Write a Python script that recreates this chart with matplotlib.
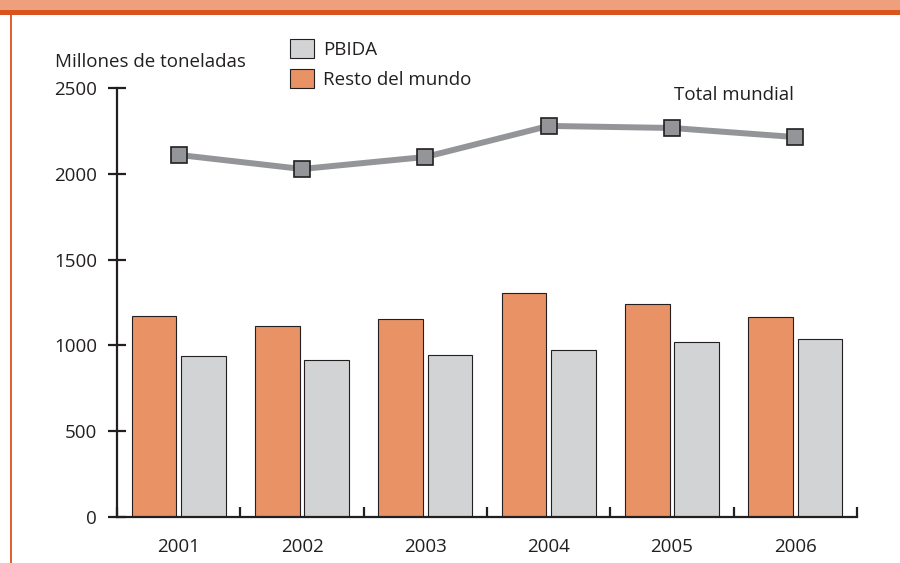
import matplotlib
matplotlib.use("Agg")
import matplotlib.pyplot as plt
import numpy as np
from matplotlib.patches import Rectangle, Patch

plt.rcParams["font.family"] = ["Open Sans", "DejaVu Sans"]

INK = "#231f20"
ORANGE = "#e89266"
GRAY = "#d1d3d4"
LINE = "#939598"

years = ["2001", "2002", "2003", "2004", "2005", "2006"]
resto = [1171, 1113, 1154, 1305, 1241, 1165]
pbida = [938, 915, 944, 973, 1020, 1037]
total = [2110, 2028, 2098, 2279, 2267, 2214]

fig = plt.figure(figsize=(9, 5.63), dpi=100)
fig.patch.set_facecolor("white")

# page frame: orange band on top, thin line on the left
fig.patches.append(Rectangle((0, 1 - 10 / 563), 1, 10 / 563, transform=fig.transFigure,
                             facecolor="#eda07b", edgecolor="none"))
fig.patches.append(Rectangle((0, 1 - 15 / 563), 1, 5 / 563, transform=fig.transFigure,
                             facecolor="#d9531e", edgecolor="none"))
fig.patches.append(Rectangle((10 / 900, 0), 2 / 900, 1 - 15 / 563, transform=fig.transFigure,
                             facecolor="#e0622d", edgecolor="none"))

ax = fig.add_axes([117 / 900, 1 - 517 / 563, 740 / 900, 429 / 563])

x = np.arange(len(years))
w = 0.36
ax.bar(x - 0.2, resto, width=w, color=ORANGE, edgecolor=INK, linewidth=0.8, zorder=2)
ax.bar(x + 0.2, pbida, width=w, color=GRAY, edgecolor=INK, linewidth=0.8, zorder=2)
ax.plot(x, total, color=LINE, linewidth=4.3, marker="s", markersize=11.5,
        markerfacecolor=LINE, markeredgecolor=INK, markeredgewidth=1.2, zorder=3)

ax.set_xlim(-0.5, 5.5)
ax.set_ylim(0, 2500)
ax.set_yticks([0, 500, 1000, 1500, 2000, 2500])

ax.set_xticks(x)
ax.set_xticklabels(years)
ax.set_xticks(np.arange(-0.5, 6.0, 1.0), minor=True)

for s in ["top", "right"]:
    ax.spines[s].set_visible(False)
for s in ["left", "bottom"]:
    ax.spines[s].set_linewidth(1.6)
    ax.spines[s].set_color(INK)

ax.tick_params(axis="y", direction="inout", length=13, width=1.6, color=INK,
               labelsize=13.5, labelcolor=INK, pad=8)
ax.tick_params(axis="x", which="major", length=0, labelsize=13.5, labelcolor=INK, pad=15)
ax.tick_params(axis="x", which="minor", direction="in", length=7, width=1.6, color=INK)

fig.text(55 / 900, 1 - 62 / 563, "Millones de toneladas", fontsize=13.5, color=INK, va="center")
ax.text(4.02, 2460, "Total mundial", fontsize=13.5, color=INK, va="center")

handles = [Patch(facecolor=GRAY, edgecolor=INK, linewidth=0.8, label="PBIDA"),
           Patch(facecolor=ORANGE, edgecolor=INK, linewidth=0.8, label="Resto del mundo")]
fig.legend(handles=handles, loc="upper left", bbox_to_anchor=(290 / 900, 1 - 39 / 563),
           frameon=False, fontsize=13.5, borderpad=0, borderaxespad=0,
           handlelength=1.3, handleheight=1.15, handletextpad=0.45, labelspacing=0.55,
           labelcolor=INK)

fig.savefig("out.png", dpi=100, facecolor="white")
